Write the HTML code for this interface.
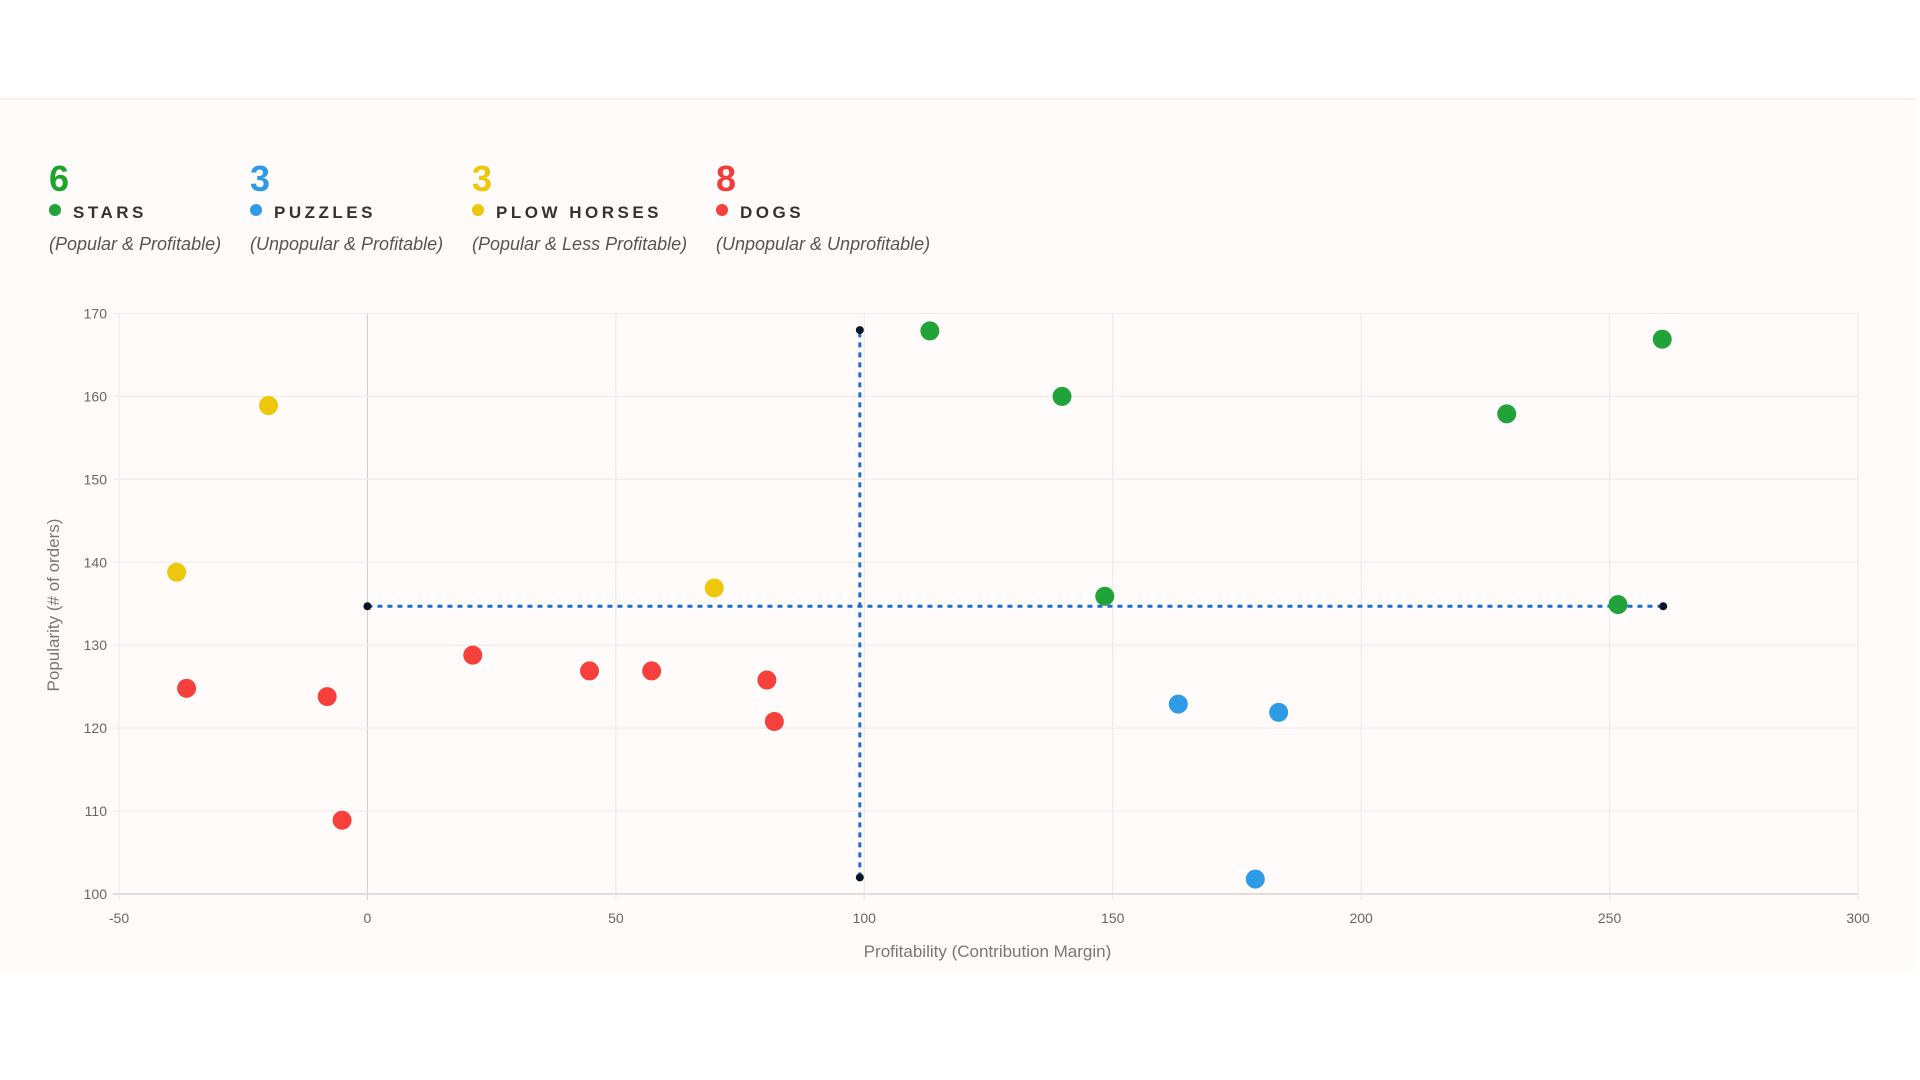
<!DOCTYPE html>
<html><head><meta charset="utf-8"><style>
body{margin:0;width:1920px;height:1080px;background:#fff;font-family:"Liberation Sans",sans-serif;overflow:hidden;position:relative}
.card{position:absolute;left:0;top:98px;width:1916px;height:873px;background:#fffbfb;border-top:2px solid #f8f0ee}
.leg{position:absolute;top:161px}
.num{font-size:36px;font-weight:bold;line-height:36px}
.lab{font-size:17px;font-weight:bold;letter-spacing:3.5px;color:#333;margin-top:6px;white-space:nowrap}
.lab i{display:inline-block;width:12px;height:12px;border-radius:50%;margin-right:12px;vertical-align:2px}
.sub{font-size:18px;font-style:italic;color:#555;margin-top:11px;white-space:nowrap}
svg{position:absolute;left:0;top:0}
</style></head><body>
<div class="card"></div>
<div class="leg" style="left:49px"><div class="num" style="color:#1aa628">6</div><div class="lab"><i style="background:#22a33a"></i>STARS</div><div class="sub">(Popular &amp; Profitable)</div></div>
<div class="leg" style="left:250px"><div class="num" style="color:#2d9be6">3</div><div class="lab"><i style="background:#2d9be6"></i>PUZZLES</div><div class="sub">(Unpopular &amp; Profitable)</div></div>
<div class="leg" style="left:472px"><div class="num" style="color:#eec60a">3</div><div class="lab"><i style="background:#eec60a"></i>PLOW HORSES</div><div class="sub">(Popular &amp; Less Profitable)</div></div>
<div class="leg" style="left:716px"><div class="num" style="color:#f53a3a">8</div><div class="lab"><i style="background:#f5403c"></i>DOGS</div><div class="sub">(Unpopular &amp; Unprofitable)</div></div>
<svg id="chart" width="1920" height="1080"></svg>
<script>
const xTicks=[-50,0,50,100,150,200,250,300];
const yTicks=[100,110,120,130,140,150,160,170];
const starsX=[113.2,139.8,229.3,260.6,148.4,251.7];
const starsY=[167.9,160,157.9,166.9,135.9,134.9];
const puzzlesX=[163.2,183.4,178.7];
const puzzlesY=[122.9,121.9,101.8];
const plowX=[-19.9,-38.4,69.8];
const plowY=[158.9,138.8,136.9];
const dogsX=[-36.4,-8.1,-5.1,21.2,44.7,57.2,80.4,81.9];
const dogsY=[124.8,123.8,108.9,128.8,126.9,126.9,125.8,120.8];
const avgX=[99.1];
const avgY=[134.7];
const avgXRange=[0,260.8];
const avgYRange=[102,168];
const L=119,R=1858,T=313.5,B=894,X0=-50,X1=300,Y0=100,Y1=170;
const sx=v=>L+(v-X0)/(X1-X0)*(R-L);
const sy=v=>B-(v-Y0)/(Y1-Y0)*(B-T);
const svg=document.getElementById('chart');
const NS='http://www.w3.org/2000/svg';
function mk(tag,a){const e=document.createElementNS(NS,tag);for(const k in a)e.setAttribute(k,a[k]);svg.appendChild(e);return e;}
xTicks.forEach(t=>{
 const l=mk('line',{x1:sx(t),x2:sx(t),y1:T,y2:B+6,stroke:t===0?'#d8d0d0':'#f0e8e8','stroke-width':1.2});
 
 
 const tx=mk('text',{x:sx(t),y:B+29,'text-anchor':'middle','font-size':14,fill:'#666'});tx.textContent=t;
 
 
});
yTicks.forEach(t=>{
 const l=mk('line',{x1:L-6,x2:R,y1:sy(t),y2:sy(t),stroke:t===100?'#e4dcd8':'#f5eaea','stroke-width':t===100?2:1.2});
 
 
 const tx=mk('text',{x:L-12,y:sy(t)+5,'text-anchor':'end','font-size':14,fill:'#666'});tx.textContent=t;
 
 
});
let t1=mk('text',{x:(L+R)/2-1,y:957,'text-anchor':'middle','font-size':17,fill:'#777'});t1.textContent='Profitability (Contribution Margin)';


let t2=mk('text',{x:0,y:0,'text-anchor':'middle','font-size':17,fill:'#777',transform:'translate(59,605) rotate(-90)'});t2.textContent='Popularity (# of orders)';


let vl=mk('line',{x1:sx(avgX[0]),x2:sx(avgX[0]),y1:sy(avgYRange[0]),y2:sy(avgYRange[1]),stroke:'#1a6fd0','stroke-width':3,'stroke-dasharray':'5,5'});


let hl=mk('line',{x1:sx(avgXRange[0]),x2:sx(avgXRange[1]),y1:sy(avgY[0]),y2:sy(avgY[0]),stroke:'#1a6fd0','stroke-width':3,'stroke-dasharray':'5,5'});


[[avgX[0],avgYRange[0]],[avgX[0],avgYRange[1]],[avgXRange[0],avgY[0]],[avgXRange[1],avgY[0]]].forEach(p=>{
 const c=mk('circle',{cx:sx(p[0]),cy:sy(p[1]),r:4,fill:'#0a1428'});
 
 
});
function series(xs,ys,col,name){xs.forEach((x,i)=>{
 const c=mk('circle',{cx:sx(x),cy:sy(ys[i]),r:9.5,fill:col});
 
 
});}
series(starsX,starsY,'#22a33a','star');
series(puzzlesX,puzzlesY,'#2d9be6','puzzle');
series(plowX,plowY,'#eec60a','plow-horse');
series(dogsX,dogsY,'#f5403c','dog');
</script>
</body></html>
